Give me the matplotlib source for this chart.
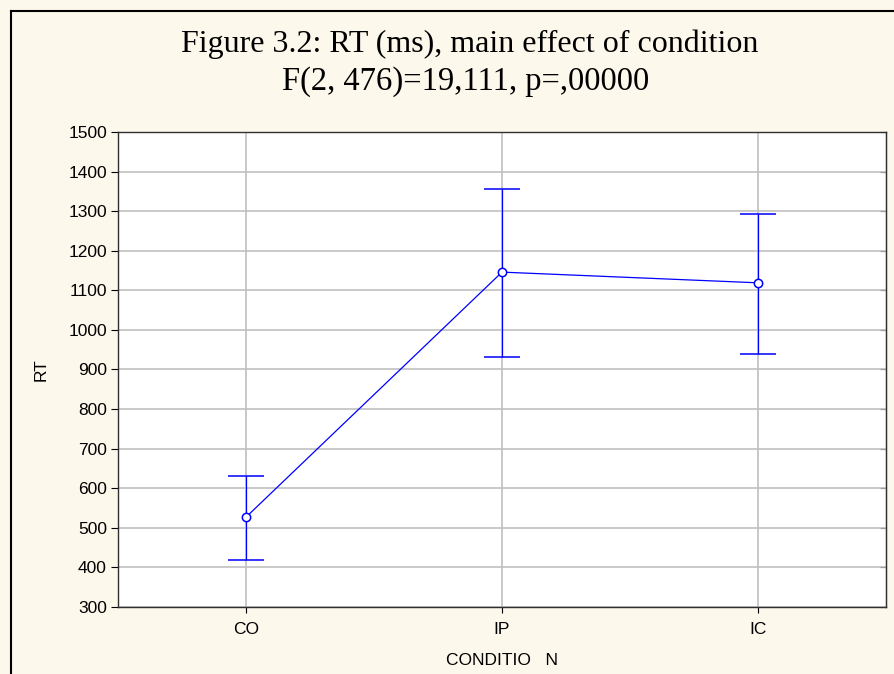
import matplotlib.pyplot as plt

# data
conditions = ["CO", "IP", "IC"]
rt_mean = [527, 1146, 1119]
rt_upper = [631, 1356, 1293]
rt_lower = [419, 932, 939]

err_low = [m - l for m, l in zip(rt_mean, rt_lower)]
err_high = [u - m for m, u in zip(rt_mean, rt_upper)]
x = list(range(len(conditions)))

fig = plt.figure(figsize=(8.95, 6.74), dpi=100)
fig.patch.set_facecolor("#fdf8ec")

# black frame lines on the left and top of the figure
fig.add_artist(plt.Line2D([11 / 895, 11 / 895], [0, 1 - 11 / 674], color="black",
                          linewidth=1.5, transform=fig.transFigure))
fig.add_artist(plt.Line2D([11 / 895, 1], [1 - 11 / 674, 1 - 11 / 674], color="black",
                          linewidth=1.5, transform=fig.transFigure))

ax = fig.add_axes([118 / 895, 1 - 607 / 674, 768 / 895, 475 / 674])
ax.set_facecolor("white")

ax.errorbar(x, rt_mean, yerr=[err_low, err_high], color="blue", linewidth=0.9,
            elinewidth=0.9, capsize=13, capthick=0.9, marker="o", markersize=6,
            markerfacecolor="white", markeredgecolor="blue", markeredgewidth=1.1, zorder=3)

ax.set_xlim(-0.5, 2.5)
ax.set_ylim(300, 1500)
ax.set_yticks(range(300, 1501, 100))
ax.set_xticks(x)
ax.set_xticklabels(conditions)
ax.grid(True, color="#c0c0c0", linewidth=1.2)
ax.set_axisbelow(True)

for lab in ax.get_xticklabels() + ax.get_yticklabels():
    lab.set_fontfamily("Liberation Sans")
    lab.set_fontsize(12.5)
ax.tick_params(axis="y", which="both", left=True, right=False, direction="out",
               length=5, pad=3)
ax.tick_params(axis="x", direction="out", length=4, pad=7)
# inward ticks on the right spine
ax2 = ax.secondary_yaxis("right")
ax2.set_yticks(range(300, 1501, 100))
ax2.tick_params(direction="in", length=4, labelright=False)
ax2.spines["right"].set_color("#303030")
for s in ax.spines.values():
    s.set_color("#303030")
    s.set_linewidth(1.0)

ax.set_ylabel("RT", fontfamily="Liberation Sans", fontsize=12.5, labelpad=14)
ax.set_xlabel("CONDITIO   N", fontfamily="Liberation Sans", fontsize=12.5, labelpad=11)

fig.text(470 / 895, 1 - 44 / 674, "Figure 3.2: RT (ms), main effect of condition",
         ha="center", va="center", fontfamily="Liberation Serif", fontsize=23)
fig.text(466 / 895, 1 - 82 / 674, "F(2, 476)=19,111, p=,00000",
         ha="center", va="center", fontfamily="Liberation Serif", fontsize=23.5)

fig.savefig("out.png", dpi=100, facecolor=fig.get_facecolor())
